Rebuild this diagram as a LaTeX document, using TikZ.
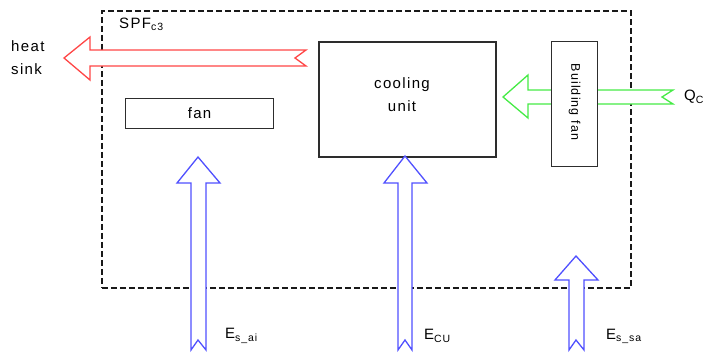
\documentclass[tikz,border=0pt]{standalone}
\usepackage{fontspec}
\setmainfont{Liberation Sans}[LetterSpace=9]
\usepackage{tikz}
\usetikzlibrary{positioning, calc}
\definecolor{heatcolor}{RGB}{255, 70, 70}
\definecolor{coolcolor}{RGB}{70, 235, 70}
\definecolor{powercolor}{RGB}{80, 80, 255}
\definecolor{boxcolor}{RGB}{45, 45, 45}

\begin{document}
\begin{tikzpicture}[
    x=1pt, y=-1pt,
    font=\fontsize{15}{17}\selectfont,
    unitbox/.style={rectangle, draw=boxcolor, line width=1.5pt, fill=white, inner sep=0pt, anchor=north west},
    fatarrow/.style={line width=1.3pt, line join=miter, fill=white},
    lbl/.style={inner sep=0pt, anchor=west}
]
\useasboundingbox (0,0) rectangle (721,356);

% System boundary
\node[draw=black!90, dashed, line width=1.9pt, dash pattern=on 6pt off 3pt, rectangle, inner sep=0pt,
      minimum width=529pt, minimum height=277pt, anchor=north west] (frame) at (101,10) {};
\node[lbl] (spf) at (119,24) {SPF\textsubscript{c3}};

% Heat rejection
\draw[fatarrow, draw=heatcolor] (306,50) -- (90,50) -- (90,37) -- (64,58) -- (90,80) -- (90,66) -- (306,66) -- (295,58) -- cycle;
\node[lbl, align=left] (sink) at (11,58) {heat\\[6pt]sink};

% Cooling load
\draw[fatarrow, draw=coolcolor] (673,90) -- (528,90) -- (528,75) -- (503,97) -- (528,118) -- (528,104) -- (673,104) -- (662,97) -- cycle;
\node[lbl] (qc) at (684,97) {Q\textsubscript{C}};

% Units
\node[unitbox, line width=1.1pt, minimum width=148pt, minimum height=30pt] (fan) at (125,98) {};
\node (fantxt) at (fan.center) {fan};
\node[unitbox, minimum width=177pt, minimum height=115pt] (cu) at (318,41) {};
\node[align=center, inner sep=0pt] (cutxt) at (402,95) {cooling\\[6pt]unit};
\node[unitbox, line width=1.2pt, minimum width=46pt, minimum height=125pt] (bfan) at (551,41) {};
\node[rotate=-90, font=\fontsize{12.5}{14}\selectfont] (bfantxt) at ($(bfan.center)+(0,-2)$) {Building\hspace{5pt}fan};

% Electricity input
\draw[fatarrow, draw=powercolor] (191,350) -- (191,183) -- (177,183) -- (198,157) -- (220,183) -- (206,183) -- (206,350) -- (198,340) -- cycle;
\draw[fatarrow, draw=powercolor] (398,350) -- (398,183) -- (384,183) -- (405,156) -- (427,183) -- (412,183) -- (412,350) -- (405,340) -- cycle;
\draw[fatarrow, draw=powercolor] (569,350) -- (569,280) -- (555,280) -- (576,256) -- (598,280) -- (584,280) -- (584,350) -- (576,340) -- cycle;
\node[lbl] (esai) at (225,336) {E\textsubscript{s\_ai}};
\node[lbl] (ecu) at (424,336) {E\textsubscript{CU}};
\node[lbl] (essa) at (606,336) {E\textsubscript{s\_sa}};

\end{tikzpicture}
\end{document}
